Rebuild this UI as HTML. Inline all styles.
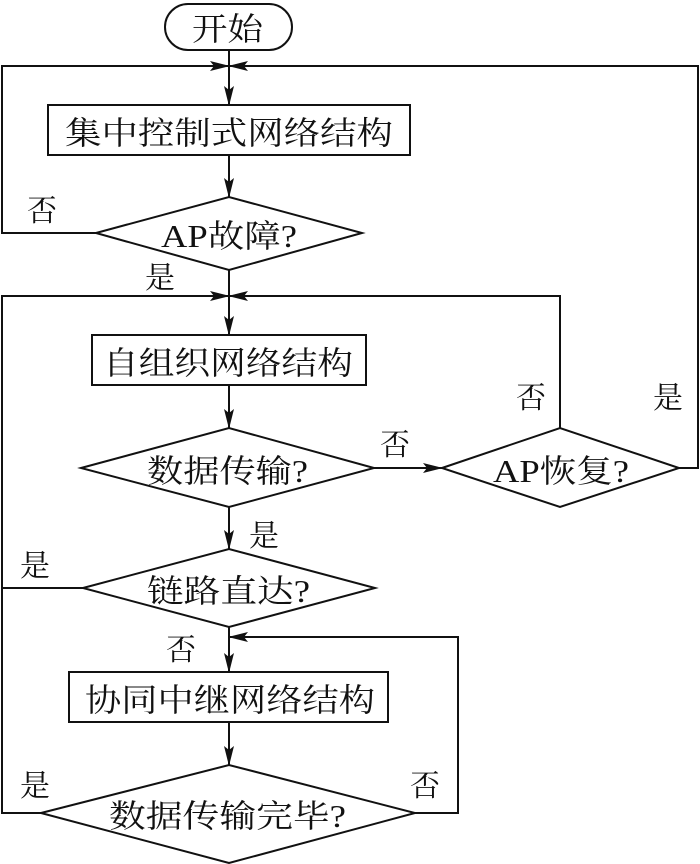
<!DOCTYPE html>
<html><head><meta charset="utf-8"><style>html,body{margin:0;padding:0;background:#fff}svg{display:block}</style></head>
<body>
<svg width="700" height="864" viewBox="0 0 700 864" xmlns="http://www.w3.org/2000/svg">
<defs>
<marker id="a" markerWidth="20" markerHeight="12" refX="19" refY="6" orient="auto" markerUnits="userSpaceOnUse">
<path d="M0,1 L20,6 L0,11 L4,6 Z" fill="#111"/>
</marker>
</defs>
<g fill="none" stroke="#111" stroke-width="2">
<rect x="165" y="4" width="127" height="46" rx="23"/>
<rect x="48" y="105" width="362" height="50"/>
<polygon points="96,233 229,197 362,233 229,270"/>
<rect x="92" y="335" width="274" height="50"/>
<polygon points="81,468 229,428 374,468 229,507"/>
<polygon points="442,468 560,428 679,468 560,507"/>
<polygon points="83,588 229,549 375,588 229,627"/>
<rect x="69" y="672" width="319" height="50"/>
<polygon points="41,813 229,765 415,813 229,863"/>
<!-- main vertical -->
<line x1="229" y1="50" x2="229" y2="105" marker-end="url(#a)"/>
<line x1="229" y1="155" x2="229" y2="197" marker-end="url(#a)"/>
<line x1="229" y1="270" x2="229" y2="335" marker-end="url(#a)"/>
<line x1="229" y1="385" x2="229" y2="428" marker-end="url(#a)"/>
<line x1="229" y1="507" x2="229" y2="549" marker-end="url(#a)"/>
<line x1="229" y1="627" x2="229" y2="672" marker-end="url(#a)"/>
<line x1="229" y1="722" x2="229" y2="765" marker-end="url(#a)"/>
<!-- top loop -->
<polyline points="96,233 2,233 2,66 229,66" marker-end="url(#a)"/>
<polyline points="679,468 698,468 698,66 229,66" marker-end="url(#a)"/>
<!-- second loop -->
<polyline points="83,588 2,588 2,296 229,296" marker-end="url(#a)"/>
<polyline points="41,813 2,813 2,588"/>
<polyline points="560,428 560,296 229,296" marker-end="url(#a)"/>
<line x1="374" y1="468" x2="442" y2="468" marker-end="url(#a)"/>
<polyline points="415,813 458,813 458,637 229,637" marker-end="url(#a)"/>
</g>
<g font-family="'Liberation Serif','Noto Serif CJK SC',serif" fill="#111" font-size="32">
<text x="192" y="40" textLength="71" lengthAdjust="spacingAndGlyphs">开始</text>
<text x="65" y="144" textLength="328" lengthAdjust="spacingAndGlyphs">集中控制式网络结构</text>
<text x="161" y="247" textLength="136" lengthAdjust="spacingAndGlyphs">AP故障?</text>
<text x="103" y="374" textLength="250" lengthAdjust="spacingAndGlyphs">自组织网络结构</text>
<text x="147" y="482" textLength="161" lengthAdjust="spacingAndGlyphs">数据传输?</text>
<text x="493" y="482" textLength="136" lengthAdjust="spacingAndGlyphs">AP恢复?</text>
<text x="147" y="602" textLength="163" lengthAdjust="spacingAndGlyphs">链路直达?</text>
<text x="85" y="711" textLength="290" lengthAdjust="spacingAndGlyphs">协同中继网络结构</text>
<text x="109" y="827" textLength="237" lengthAdjust="spacingAndGlyphs">数据传输完毕?</text>
<g font-size="30">
<text x="27" y="221">否</text>
<text x="145" y="288">是</text>
<text x="380" y="455">否</text>
<text x="516" y="408">否</text>
<text x="653" y="408">是</text>
<text x="249" y="546">是</text>
<text x="20" y="576">是</text>
<text x="166" y="660">否</text>
<text x="20" y="796">是</text>
<text x="410" y="796">否</text>
</g>
</g>
</svg>
</body></html>
